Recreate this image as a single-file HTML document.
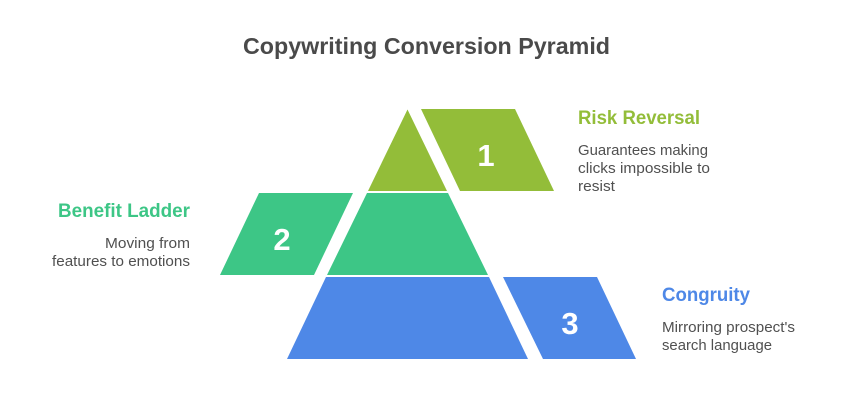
<!DOCTYPE html>
<html>
<head>
<meta charset="utf-8">
<style>
html,body{margin:0;padding:0;background:#fff;width:852px;height:402px;overflow:hidden}
svg{display:block}
text{font-family:"Liberation Sans",sans-serif}
.h{font-weight:700;font-size:19px}
.d{font-size:14.5px;fill:#505050}
.n{font-weight:700;font-size:31px;fill:#fff;text-anchor:middle}
</style>
</head>
<body>
<svg width="852" height="402" viewBox="0 0 852 402" xmlns="http://www.w3.org/2000/svg">
<text x="243" y="54" font-size="23" font-weight="700" fill="#4a4a4a" textLength="367" lengthAdjust="spacingAndGlyphs">Copywriting Conversion Pyramid</text>
<polygon points="407.5,109.5 447,191 368,191" fill="#93bd39"/>
<polygon points="421,109 515,109 554,191 460,191" fill="#93bd39"/>
<polygon points="367,193 448,193 488,275 327,275" fill="#3dc686"/>
<polygon points="259,193 353,193 314,275 220,275" fill="#3dc686"/>
<polygon points="326,277 489,277 528,359 287,359" fill="#4e88e7"/>
<polygon points="503,277 597,277 636,359 543,359" fill="#4e88e7"/>
<text class="n" x="486" y="166">1</text>
<text class="n" x="282" y="250">2</text>
<text class="n" x="570" y="334">3</text>
<text class="h" x="578" y="124" fill="#93bd39" textLength="122" lengthAdjust="spacingAndGlyphs">Risk Reversal</text>
<text class="d" x="578" y="155" textLength="130" lengthAdjust="spacingAndGlyphs">Guarantees making</text>
<text class="d" x="578" y="173" textLength="132" lengthAdjust="spacingAndGlyphs">clicks impossible to</text>
<text class="d" x="578" y="191" textLength="37" lengthAdjust="spacingAndGlyphs">resist</text>
<text class="h" x="58" y="217" fill="#3dc686" textLength="132" lengthAdjust="spacingAndGlyphs">Benefit Ladder</text>
<text class="d" x="105" y="248" textLength="85" lengthAdjust="spacingAndGlyphs">Moving from</text>
<text class="d" x="52" y="266" textLength="138" lengthAdjust="spacingAndGlyphs">features to emotions</text>
<text class="h" x="662" y="301" fill="#4e88e7" textLength="88" lengthAdjust="spacingAndGlyphs">Congruity</text>
<text class="d" x="662" y="332" textLength="133" lengthAdjust="spacingAndGlyphs">Mirroring prospect's</text>
<text class="d" x="662" y="350" textLength="110" lengthAdjust="spacingAndGlyphs">search language</text>
</svg>
</body>
</html>
